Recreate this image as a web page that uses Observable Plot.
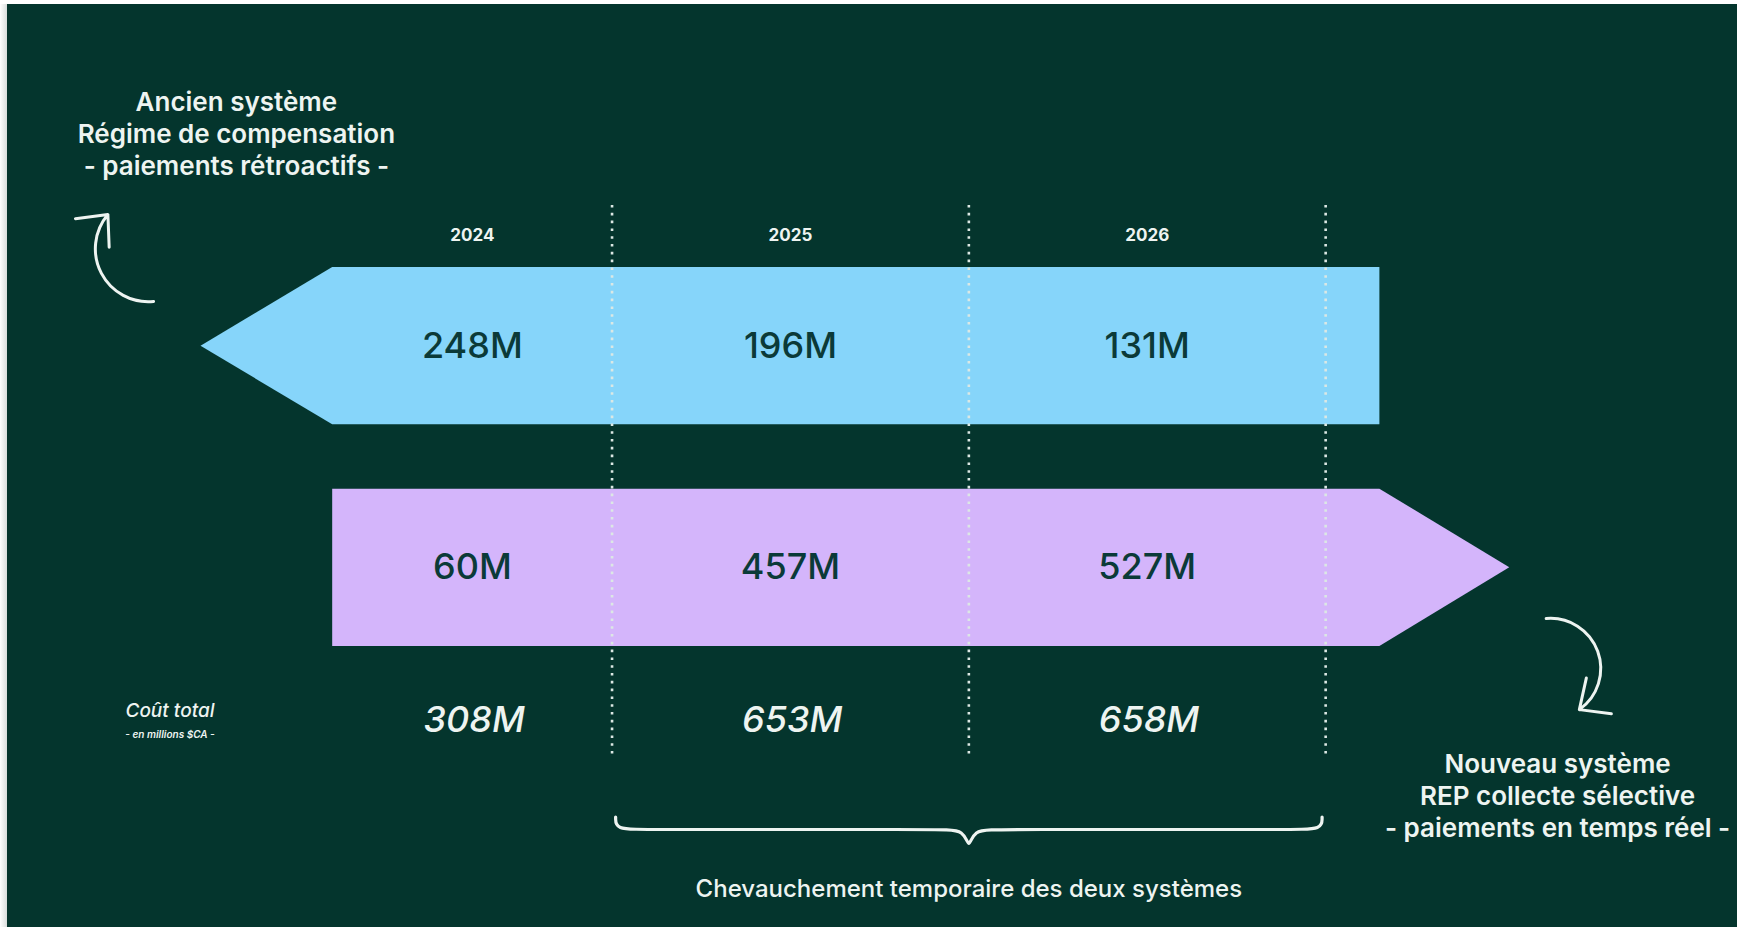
<!DOCTYPE html>
<html>
<head>
<meta charset="utf-8">
<script src="https://cdn.jsdelivr.net/npm/d3@7"></script>
<script src="https://cdn.jsdelivr.net/npm/@observablehq/plot@0.6"></script>
<style>
  html, body { margin: 0; padding: 0; background: #04352d; overflow: hidden; }
  #chart { position: relative; width: 1737px; height: 927px; }
  #chart::before { content: ""; position: absolute; left: 0; top: 0; width: 7px; height: 927px; background: linear-gradient(to right, #ffffff, #d9dedc); z-index: 2; }
  #chart::after { content: ""; position: absolute; left: 0; top: 0; width: 1737px; height: 4px; background: #ffffff; z-index: 2; }
</style>
</head>
<body>
<div id="chart"></div>
<script>
// ---- Data ----
const years = [2024, 2025, 2026];
const ancienValues = [248, 196, 131];   // millions $CA – ancien système
const nouveauValues = [60, 457, 527];   // millions $CA – nouveau système (REP)
const totalValues = [308, 653, 658];    // coût total
const ancienLabel = ["Ancien système", "Régime de compensation", "- paiements rétroactifs -"];
const nouveauLabel = ["Nouveau système", "REP collecte sélective", "- paiements en temps réel -"];
const totalLabel = ["Coût total", "- en millions $CA -"];
const overlapLabel = "Chevauchement temporaire des deux systèmes";

// ---- Layout (scale units: x in years, y in rows) ----
const W = 1737, H = 927;
const C = {
  bg: "#04352d", blue: "#86d5fa", purple: "#d4b5fb",
  dark: "#0b3a38", light: "#eef4f1", dots: "#dce8e4"
};
const bodyStart = years[0] - 0.283;
const bodyEnd = years[years.length - 1] + 0.652;
const half = 0.355;
const blueTip = bodyStart - 0.369;
const purpleTip = bodyEnd + 0.364;
const bounds = years.map(y => y + 0.5);
const colX = (y, i) => i === 0 ? (bodyStart + y + 0.5) / 2 : y;

const blueShape = [
  {x: blueTip, y1: 0, y2: 0},
  {x: bodyStart, y1: -half, y2: half},
  {x: bodyEnd, y1: -half, y2: half}
];
const purpleShape = [
  {x: bodyStart, y1: 1 - half, y2: 1 + half},
  {x: bodyEnd, y1: 1 - half, y2: 1 + half},
  {x: purpleTip, y1: 1, y2: 1}
];

const cols = years.map((y, i) => ({
  year: y, x: colX(y, i),
  ancien: ancienValues[i], nouveau: nouveauValues[i], total: totalValues[i]
}));

// brace spanning the overlap years
const bL = bounds[0] + 0.01, bR = bounds[2] - 0.01, bM = bounds[1];
const yb = 2.181, yh = 2.125, yd = 2.275;
const brace = [
  [bL, yh], [bL, yb], [bL + 0.08, yb], [bM - 0.08, yb], [bM - 0.012, yb], [bM, yd],
  [bM + 0.012, yb], [bM + 0.08, yb], [bR - 0.08, yb], [bR, yb], [bR, yh]
];

const fam = "Inter, 'Liberation Sans', sans-serif";

const chart = Plot.plot({
  width: W, height: H, margin: 0,
  x: {domain: [2022.786, 2022.786 + W / 356.8], axis: null},
  y: {domain: [-1.560, -1.560 + H / 221.6], reverse: true, axis: null},
  style: {background: C.bg, fontFamily: fam, overflow: "visible"},
  marks: [
    Plot.areaY(blueShape, {x: "x", y1: "y1", y2: "y2", fill: C.blue, curve: "linear"}),
    Plot.areaY(purpleShape, {x: "x", y1: "y1", y2: "y2", fill: C.purple, curve: "linear"}),
    Plot.ruleX(bounds, {x: d => d, y1: -0.635, y2: 1.856, stroke: C.dots, strokeWidth: 2.6, strokeDasharray: "2.6 5.2", strokeLinecap: "butt"}),
    // year labels
    Plot.text(cols, {x: "x", y: -0.5, text: d => String(d.year), fill: C.light, fontSize: 17, fontWeight: 700}),
    // values
    Plot.text(cols, {x: "x", y: 0, text: d => d.ancien + "M", fill: C.dark, fontSize: 36, fontWeight: 500}),
    Plot.text(cols, {x: "x", y: 1, text: d => d.nouveau + "M", fill: C.dark, fontSize: 36, fontWeight: 500}),
    Plot.text(cols, {x: d => d.x + 0.005, y: 1.69, text: d => d.total + "M", fill: C.light, fontSize: 36, fontWeight: 500, fontStyle: "italic"}),
    // total label
    Plot.text([totalLabel[0]], {x: 2023.261, y: 1.644, text: d => d, fill: C.light, fontSize: 19, fontWeight: 500, fontStyle: "italic"}),
    Plot.text([totalLabel[1]], {x: 2023.261, y: 1.752, text: d => d, fill: C.light, fontSize: 10, fontWeight: 600, fontStyle: "italic"}),
    // side labels
    Plot.text([ancienLabel.join("\n")], {x: 2023.447, y: -0.965, text: d => d, fill: C.light, fontSize: 26, fontWeight: 600, lineHeight: 1.23}),
    Plot.text([nouveauLabel.join("\n")], {x: 2027.150, y: 2.023, text: d => d, fill: C.light, fontSize: 26, fontWeight: 600, lineHeight: 1.23}),
    // curved arrows
    Plot.arrow([{x1: 2023.215, y1: -0.202, x2: 2023.087, y2: -0.594}], {x1: "x1", y1: "y1", x2: "x2", y2: "y2", bend: 68, stroke: C.light, strokeWidth: 3, headLength: 26, headAngle: 85}),
    Plot.arrow([{x1: 2027.118, y1: 1.229, x2: 2027.211, y2: 1.640}], {x1: "x1", y1: "y1", x2: "x2", y2: "y2", bend: 75, stroke: C.light, strokeWidth: 3, headLength: 26, headAngle: 85}),
    // brace
    Plot.line(brace, {x: d => d[0], y: d => d[1], stroke: C.light, strokeWidth: 3.2, curve: "basis"}),
    Plot.text([overlapLabel], {x: bM, y: 2.45, text: d => d, fill: C.light, fontSize: 24, fontWeight: 500})
  ]
});
document.getElementById("chart").append(chart);
</script>
</body>
</html>
